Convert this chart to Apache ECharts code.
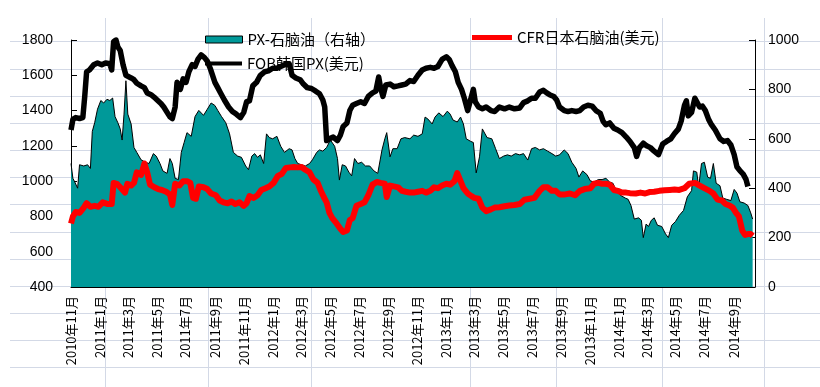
<!DOCTYPE html>
<html>
<head>
<meta charset="utf-8">
<script src="https://cdn.jsdelivr.net/npm/echarts/dist/echarts.min.js"></script>
<style>html,body{margin:0;padding:0;background:#fff;}#chart{width:820px;height:387px;}</style>
</head>
<body>
<div id="chart"></div>
<script>
// ---------------- DATA ----------------
const axisStart = '2010-11-01';
const axisEnd = '2014-10-16';
const tickDates = ['2010-11-01','2011-01-01','2011-03-01','2011-05-01','2011-07-01','2011-09-01','2011-11-01',
  '2012-01-01','2012-03-01','2012-05-01','2012-07-01','2012-09-01','2012-11-01',
  '2013-01-01','2013-03-01','2013-05-01','2013-07-01','2013-09-01','2013-11-01',
  '2014-01-01','2014-03-01','2014-05-01','2014-07-01','2014-09-01'];
const leftTicks = {min: 400, max: 1800, step: 200};
const rightTicks = {min: 0, max: 1000, step: 200};

const seriesNames = ['PX-石脑油（右轴）', 'CFR日本石脑油(美元)', 'FOB韩国PX(美元)'];

// PX - naphtha spread (right axis)
const spreadDates = ['2010-11-01','2010-11-05','2010-11-09','2010-11-15','2010-11-19','2010-11-28','2010-12-06','2010-12-12','2010-12-16','2010-12-21','2010-12-27',
'2011-01-03','2011-01-09','2011-01-16','2011-01-22','2011-01-28','2011-02-02','2011-02-08','2011-02-13','2011-02-17','2011-02-21','2011-02-25','2011-02-27',
'2011-03-01','2011-03-08','2011-03-14','2011-03-20','2011-03-29','2011-04-07','2011-04-15','2011-04-24','2011-04-30','2011-05-08','2011-05-14','2011-05-23','2011-05-29',
'2011-06-03','2011-06-09','2011-06-16','2011-06-22','2011-06-28','2011-07-04','2011-07-13','2011-07-21','2011-07-29','2011-08-08','2011-08-16','2011-08-24',
'2011-09-01','2011-09-07','2011-09-15','2011-09-24','2011-10-02','2011-10-10','2011-10-19','2011-10-27','2011-11-05','2011-11-11','2011-11-18','2011-11-24','2011-11-30',
'2011-12-06','2011-12-13','2011-12-19','2011-12-25','2012-01-01','2012-01-10','2012-01-18','2012-01-26','2012-02-05','2012-02-11','2012-02-17','2012-02-23',
'2012-03-02','2012-03-10','2012-03-19','2012-03-25','2012-04-03','2012-04-09','2012-04-16','2012-04-24','2012-05-02','2012-05-11','2012-05-17','2012-05-21','2012-05-27',
'2012-06-03','2012-06-10','2012-06-16','2012-06-22','2012-06-29','2012-07-07','2012-07-15','2012-07-24','2012-08-02','2012-08-10','2012-08-19','2012-08-25','2012-08-29',
'2012-09-05','2012-09-11','2012-09-20','2012-09-28','2012-10-06','2012-10-17','2012-10-25','2012-11-03','2012-11-12','2012-11-18','2012-11-24',
'2012-12-03','2012-12-09','2012-12-17','2012-12-26','2013-01-04','2013-01-10','2013-01-16','2013-01-25','2013-02-01','2013-02-07','2013-02-13','2013-02-22','2013-02-28',
'2013-03-06','2013-03-13','2013-03-19','2013-03-23','2013-03-29','2013-04-08','2013-04-16','2013-04-24','2013-05-03','2013-05-11','2013-05-19','2013-05-28',
'2013-06-06','2013-06-14','2013-06-23','2013-07-01','2013-07-09','2013-07-18','2013-07-26','2013-08-04','2013-08-13','2013-08-21','2013-08-29',
'2013-09-08','2013-09-16','2013-09-24','2013-10-03','2013-10-09','2013-10-17','2013-10-26','2013-11-02','2013-11-10','2013-11-19','2013-11-27',
'2013-12-05','2013-12-13','2013-12-20','2013-12-28','2014-01-06','2014-01-15','2014-01-21','2014-01-27','2014-02-03','2014-02-12','2014-02-18','2014-02-22','2014-02-28',
'2014-03-05','2014-03-11','2014-03-17','2014-03-24','2014-04-02','2014-04-10','2014-04-16','2014-04-23','2014-05-01','2014-05-09','2014-05-18','2014-05-26',
'2014-06-04','2014-06-08','2014-06-15','2014-06-19','2014-06-25','2014-07-01','2014-07-08','2014-07-14','2014-07-20','2014-07-26',
'2014-08-03','2014-08-09','2014-08-17','2014-08-26','2014-09-02','2014-09-08','2014-09-14','2014-09-23','2014-10-01','2014-10-07','2014-10-11'];
const spreadValues = [500,440,425,400,495,490,495,480,630,665,720,
755,745,760,755,765,690,665,640,595,700,835,830,
700,660,565,545,515,505,500,540,530,500,470,460,520,
500,440,435,545,585,625,610,690,715,695,720,745,
735,715,690,665,620,545,530,525,490,475,530,540,525,
535,500,620,605,600,610,570,545,560,555,520,500,
495,490,500,515,545,555,550,565,595,570,520,433,495,
490,465,450,520,500,505,490,490,470,460,555,600,625,
527,560,560,600,605,600,615,610,620,688,680,
660,688,705,690,712,700,676,668,688,660,600,590,585,
462,527,640,648,605,600,560,520,530,535,530,540,
535,540,514,560,565,555,560,550,540,530,535,
555,540,505,480,445,470,455,430,425,435,435,
440,425,420,385,370,360,355,330,275,280,270,200,255,
245,270,280,250,245,215,200,250,265,290,310,365,
390,470,465,405,500,505,445,440,500,420,
410,360,355,350,395,380,345,340,330,300,275];

// CFR Japan naphtha (left axis)
const cfrDates = ['2010-11-01','2010-11-05','2010-11-11','2010-11-19','2010-11-28','2010-12-04','2010-12-12','2010-12-21','2010-12-29',
'2011-01-07','2011-01-18','2011-01-26','2011-01-30','2011-02-06','2011-02-13','2011-02-17','2011-02-23','2011-02-28','2011-03-08','2011-03-14','2011-03-20','2011-03-29',
'2011-04-05','2011-04-11','2011-04-17','2011-04-26','2011-05-04','2011-05-12','2011-05-21','2011-05-29','2011-06-03','2011-06-09','2011-06-18','2011-06-26',
'2011-07-04','2011-07-11','2011-07-17','2011-07-23','2011-07-29','2011-08-08','2011-08-16','2011-08-24','2011-09-03','2011-09-11','2011-09-19','2011-09-28',
'2011-10-06','2011-10-14','2011-10-23','2011-11-01','2011-11-07','2011-11-13','2011-11-22','2011-11-30','2011-12-08','2011-12-17','2011-12-25',
'2012-01-03','2012-01-12','2012-01-20','2012-01-29','2012-02-07','2012-02-15','2012-02-23','2012-03-02','2012-03-10','2012-03-19','2012-03-27',
'2012-04-05','2012-04-11','2012-04-18','2012-04-24','2012-04-30','2012-05-06','2012-05-15','2012-05-23','2012-05-29','2012-06-06','2012-06-12','2012-06-18','2012-06-26',
'2012-07-05','2012-07-13','2012-07-21','2012-07-30','2012-08-08','2012-08-16','2012-08-25','2012-08-29','2012-09-05','2012-09-13','2012-09-22','2012-09-30',
'2012-10-08','2012-10-17','2012-10-25','2012-11-03','2012-11-12','2012-11-20','2012-11-29','2012-12-07','2012-12-15','2012-12-24',
'2013-01-02','2013-01-10','2013-01-19','2013-01-25','2013-02-01','2013-02-07','2013-02-16','2013-02-24','2013-03-02','2013-03-11','2013-03-19','2013-03-27',
'2013-04-06','2013-04-14','2013-04-24','2013-05-05','2013-05-15','2013-05-26','2013-06-06','2013-06-16','2013-06-27','2013-07-07','2013-07-18','2013-07-26',
'2013-08-04','2013-08-13','2013-08-21','2013-08-29','2013-09-10','2013-09-20','2013-10-01','2013-10-11','2013-10-21','2013-11-02','2013-11-10','2013-11-19','2013-11-27',
'2013-12-05','2013-12-13','2013-12-22','2013-12-30','2014-01-08','2014-01-17','2014-01-25','2014-02-06','2014-02-16','2014-02-26','2014-03-07','2014-03-17','2014-03-28',
'2014-04-08','2014-04-19','2014-04-29','2014-05-09','2014-05-20','2014-05-30','2014-06-11','2014-06-21','2014-07-01','2014-07-12','2014-07-20','2014-07-29',
'2014-08-07','2014-08-15','2014-08-24','2014-08-30','2014-09-06','2014-09-12','2014-09-19','2014-09-25','2014-10-01','2014-10-07','2014-10-11'];
const cfrValues = [760,800,825,820,850,875,855,860,855,
880,870,870,990,985,965,970,935,985,975,990,1050,1035,
1100,1050,980,965,955,950,940,925,865,985,975,1000,
1000,990,905,900,970,965,955,930,920,890,880,875,
885,870,880,860,875,915,905,920,950,960,970,
990,1030,1040,1075,1078,1080,1078,1080,1065,1050,1010,
990,950,910,880,820,790,760,730,712,720,780,790,860,
870,880,920,980,995,990,985,910,975,970,965,945,
940,935,935,940,945,935,945,965,960,975,
985,980,1000,1046,1000,960,930,915,905,900,850,830,
840,850,852,858,862,865,870,895,900,905,945,965,
965,945,945,925,925,930,920,945,955,960,985,990,985,
985,980,950,945,935,935,932,930,935,930,938,940,945,
948,950,952,950,960,985,990,975,960,945,930,895,
890,870,860,850,820,800,720,695,700,700,690];

// FOB Korea PX (left axis)
const fobDates = ['2010-11-01','2010-11-05','2010-11-11','2010-11-19','2010-11-26','2010-11-30','2010-12-04','2010-12-10','2010-12-19','2010-12-27',
'2011-01-05','2011-01-13','2011-01-22','2011-01-26','2011-01-30','2011-02-04','2011-02-08','2011-02-13','2011-02-19','2011-02-25','2011-03-01','2011-03-08','2011-03-14','2011-03-20','2011-03-29',
'2011-04-05','2011-04-11','2011-04-19','2011-04-26','2011-05-02','2011-05-10','2011-05-16','2011-05-23','2011-05-29','2011-06-03','2011-06-09','2011-06-13','2011-06-20','2011-06-26',
'2011-07-02','2011-07-08','2011-07-15','2011-07-21','2011-07-27','2011-08-03','2011-08-10','2011-08-16','2011-08-22','2011-09-01','2011-09-07','2011-09-13','2011-09-21','2011-09-30',
'2011-10-08','2011-10-16','2011-10-25','2011-11-01','2011-11-07','2011-11-13','2011-11-20','2011-11-28','2011-12-06','2011-12-15','2011-12-23',
'2012-01-01','2012-01-10','2012-01-18','2012-01-26','2012-02-05','2012-02-11','2012-02-19','2012-02-28','2012-03-06','2012-03-14','2012-03-23',
'2012-04-01','2012-04-09','2012-04-16','2012-04-20','2012-04-24','2012-04-30','2012-05-08','2012-05-17','2012-05-23','2012-05-29','2012-06-06','2012-06-12','2012-06-18','2012-06-26',
'2012-07-05','2012-07-13','2012-07-21','2012-07-30','2012-08-06','2012-08-12','2012-08-16','2012-08-21','2012-08-27','2012-09-05','2012-09-13','2012-09-22','2012-09-30',
'2012-10-08','2012-10-17','2012-10-25','2012-11-03','2012-11-12','2012-11-20','2012-11-29','2012-12-07','2012-12-15','2012-12-24',
'2013-01-02','2013-01-08','2013-01-14','2013-01-21','2013-01-27','2013-02-03','2013-02-09','2013-02-16','2013-02-22','2013-02-28','2013-03-04','2013-03-11','2013-03-19','2013-03-27',
'2013-04-06','2013-04-14','2013-04-24','2013-05-05','2013-05-15','2013-05-26','2013-06-06','2013-06-14','2013-06-23','2013-07-01','2013-07-09','2013-07-18','2013-07-26',
'2013-08-02','2013-08-08','2013-08-17','2013-08-23','2013-08-29','2013-09-08','2013-09-16','2013-09-24','2013-10-03','2013-10-11','2013-10-19','2013-10-28',
'2013-11-06','2013-11-14','2013-11-23','2013-11-29','2013-12-05','2013-12-13','2013-12-22','2013-12-30','2014-01-08','2014-01-17','2014-01-25',
'2014-02-03','2014-02-08','2014-02-14','2014-02-22','2014-03-01','2014-03-09','2014-03-17','2014-03-26','2014-04-04','2014-04-12','2014-04-21','2014-04-29',
'2014-05-07','2014-05-13','2014-05-20','2014-05-24','2014-05-28','2014-06-04','2014-06-11','2014-06-15','2014-06-21','2014-06-27',
'2014-07-03','2014-07-10','2014-07-16','2014-07-24','2014-08-03','2014-08-11','2014-08-19','2014-08-26','2014-09-02','2014-09-08','2014-09-14','2014-09-21','2014-09-27','2014-10-01'];
const fobValues = [1290,1350,1360,1355,1360,1480,1620,1630,1660,1670,
1660,1670,1665,1630,1790,1800,1760,1740,1660,1600,1590,1585,1575,1555,1540,
1530,1500,1490,1475,1460,1440,1420,1390,1365,1355,1420,1560,1520,1580,
1560,1620,1660,1650,1690,1715,1700,1680,1640,1560,1530,1500,1460,1420,
1395,1380,1360,1390,1450,1455,1540,1560,1600,1620,1625,
1640,1640,1650,1660,1665,1600,1585,1575,1550,1530,1525,
1510,1495,1460,1420,1230,1240,1250,1230,1260,1310,1330,1400,1430,1440,
1450,1440,1480,1500,1510,1590,1530,1480,1545,1550,1535,1540,1545,
1550,1570,1565,1600,1630,1640,1645,1640,1650,1690,
1705,1690,1655,1620,1560,1520,1470,1400,1460,1520,1450,1420,1410,1420,
1400,1395,1420,1410,1420,1410,1415,1445,1455,1470,1470,1505,1515,
1500,1490,1480,1460,1420,1400,1395,1400,1395,1400,1420,1430,
1425,1400,1385,1340,1320,1330,1300,1290,1275,1250,1225,
1190,1140,1190,1215,1200,1190,1170,1150,1210,1225,1240,1270,
1295,1340,1430,1455,1370,1390,1470,1480,1420,1425,
1400,1350,1320,1290,1240,1225,1230,1205,1150,1080,1060,1040,1010,970];

// ---------------- CHART ----------------
const parse = s => { const p = s.split('-').map(Number); return new Date(p[0], p[1] - 1, p[2]).getTime(); };
const pairs = (ds, vs) => ds.map((d, i) => [parse(d), vs[i]]);
const tickVals = tickDates.map(parse);

const chart = echarts.init(document.getElementById('chart'), null, {renderer: 'canvas'});

// spreadsheet background grid (decoration only)
const sheetRows = [41, 68.5, 96, 123, 150, 177, 204, 231.5, 258.5, 286, 313, 340, 367];
const sheetCols = [105, 208, 311, 470, 556, 662, 764];
const bg = [];
sheetRows.forEach(y => bg.push({type: 'line', silent: true, z: -10, shape: {x1: 10, y1: Math.round(y) + 0.5, x2: 820, y2: Math.round(y) + 0.5}, style: {stroke: '#d3d9e6', lineWidth: 1}}));
sheetCols.forEach(x => bg.push({type: 'line', silent: true, z: -10, shape: {x1: x + 0.5, y1: 18, x2: x + 0.5, y2: 387}, style: {stroke: '#d3d9e6', lineWidth: 1}}));

const legendText = {color: '#000', fontSize: 15, fontFamily: '"Noto Sans CJK SC", sans-serif'};
const axisLineStyle = {show: true, lineStyle: {color: '#000', width: 1}};
const numFont = '"Liberation Sans", Arial, sans-serif';

chart.setOption({
  animation: false,
  backgroundColor: '#fff',
  graphic: bg,
  grid: {left: 71, right: 65, top: 40, bottom: 100, containLabel: false},
  legend: [
    {left: 205, top: 32, padding: 0, itemWidth: 37, itemHeight: 7, selectedMode: false, textStyle: legendText,
     data: [{name: seriesNames[0], icon: 'rect', itemStyle: {color: '#009999', borderColor: '#000', borderWidth: 1}}]},
    {left: 472, top: 30, padding: 0, itemWidth: 40, itemHeight: 5, selectedMode: false, textStyle: legendText,
     data: [{name: seriesNames[1], icon: 'rect', itemStyle: {color: '#ff0000', borderWidth: 0}}]},
    {left: 205, top: 56, padding: 0, itemWidth: 37, itemHeight: 4, selectedMode: false, textStyle: legendText,
     data: [{name: seriesNames[2], icon: 'rect', itemStyle: {color: '#000', borderWidth: 0}}]}
  ],
  xAxis: {
    type: 'value', min: parse(axisStart), max: parse(axisEnd),
    axisLine: axisLineStyle,
    axisTick: {show: true, inside: true, length: 5, lineStyle: {color: '#000'}, customValues: tickVals},
    axisLabel: {customValues: tickVals, rotate: 90, margin: 9, color: '#000', fontSize: 13,
      fontFamily: '"Noto Sans CJK SC", sans-serif',
      formatter: v => { const d = new Date(v); return d.getFullYear() + '年' + (d.getMonth() + 1) + '月'; }},
    splitLine: {show: false}
  },
  yAxis: [
    {type: 'value', position: 'left', min: leftTicks.min, max: leftTicks.max, interval: leftTicks.step,
     axisLine: axisLineStyle, axisTick: {show: true, inside: true, length: 6, lineStyle: {color: '#000'}},
     axisLabel: {color: '#000', fontSize: 14, fontFamily: numFont, margin: 18, formatter: v => String(v)},
     splitLine: {show: false}},
    {type: 'value', position: 'right', min: rightTicks.min, max: rightTicks.max, interval: rightTicks.step,
     axisLine: axisLineStyle, axisTick: {show: true, inside: true, length: 6, lineStyle: {color: '#000'}},
     axisLabel: {color: '#000', fontSize: 14, fontFamily: numFont, margin: 13, formatter: v => String(v)},
     splitLine: {show: false}}
  ],
  series: [
    {name: seriesNames[0], type: 'line', yAxisIndex: 1, data: pairs(spreadDates, spreadValues), symbol: 'none',
     color: '#009999', lineStyle: {color: '#000', width: 1}, areaStyle: {color: '#009999', opacity: 1}, z: 1},
    {name: seriesNames[1], type: 'line', yAxisIndex: 0, data: pairs(cfrDates, cfrValues), symbol: 'none',
     color: '#ff0000', lineStyle: {color: '#ff0000', width: 6, join: 'round'}, z: 3},
    {name: seriesNames[2], type: 'line', yAxisIndex: 0, data: pairs(fobDates, fobValues), symbol: 'none',
     color: '#000', lineStyle: {color: '#000', width: 5.5, join: 'round'}, z: 4}
  ]
});
</script>
</body>
</html>
